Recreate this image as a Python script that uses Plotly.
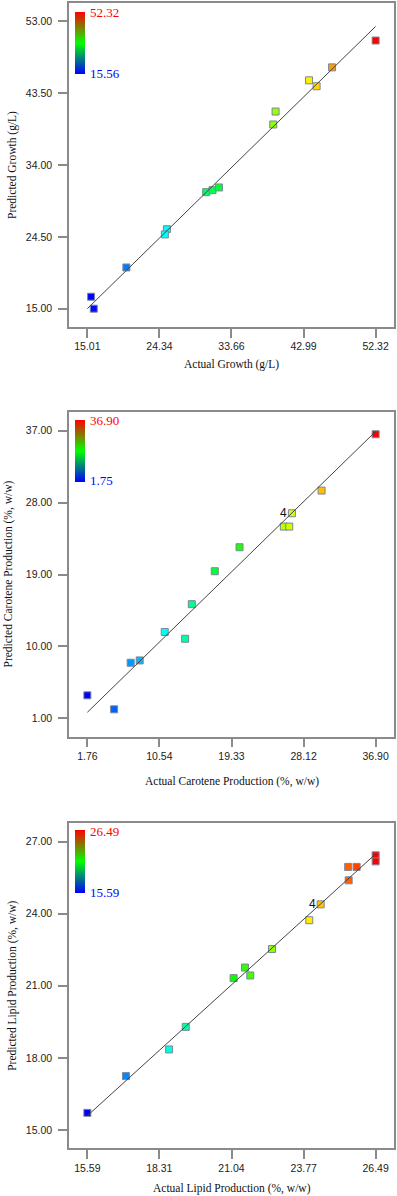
import plotly.graph_objects as go

# ---------------- data ----------------
growth_actual = [52.32, 46.68, 43.70, 44.68, 39.37, 39.07, 30.39, 31.21, 32.04, 25.30, 25.04, 20.06, 15.49, 15.84]
growth_pred   = [50.46, 46.91, 45.20, 44.41, 41.07, 39.36, 30.41, 30.67, 31.03, 25.51, 24.82, 20.45, 16.58, 15.00]
growth_xticks = [15.01, 24.34, 33.66, 42.99, 52.32]
growth_yticks = [15.00, 24.50, 34.00, 43.50, 53.00]
growth_crange = [15.56, 52.32]

carot_actual = [36.90, 30.31, 26.69, 25.71, 26.37, 20.31, 17.29, 14.49, 11.19, 13.68, 7.04, 8.14, 1.76, 5.02]
carot_pred   = [36.55, 29.50, 26.66, 25.00, 25.00, 22.41, 19.41, 15.29, 11.80, 10.96, 7.96, 8.25, 3.88, 2.13]
carot_xticks = [1.76, 10.54, 19.33, 28.12, 36.90]
carot_yticks = [1.00, 10.00, 19.00, 28.00, 37.00]
carot_crange = [1.75, 36.90]
carot_label_idx = 2

lipid_actual = [26.49, 26.49, 25.45, 25.77, 25.47, 24.41, 23.98, 22.57, 21.55, 21.75, 21.12, 19.31, 18.68, 17.05, 15.59]
lipid_pred   = [26.43, 26.18, 25.95, 25.95, 25.39, 24.39, 23.73, 22.53, 21.76, 21.43, 21.32, 19.29, 18.35, 17.24, 15.71]
lipid_xticks = [15.59, 18.31, 21.04, 23.77, 26.49]
lipid_yticks = [15.00, 18.00, 21.00, 24.00, 27.00]
lipid_crange = [15.59, 26.49]
lipid_label_idx = 5

panels = [
    dict(a=growth_actual, p=growth_pred, xt=growth_xticks, yt=growth_yticks, cr=growth_crange,
         xtitle="Actual Growth (g/L)", ytitle="Predicted Growth (g/L)", label=None),
    dict(a=carot_actual, p=carot_pred, xt=carot_xticks, yt=carot_yticks, cr=carot_crange,
         xtitle="Actual Carotene Production (%, w/w)", ytitle="Predicted Carotene Production (%, w/w)",
         label=carot_label_idx),
    dict(a=lipid_actual, p=lipid_pred, xt=lipid_xticks, yt=lipid_yticks, cr=lipid_crange,
         xtitle="Actual Lipid Production (%, w/w)", ytitle="Predicted Lipid Production (%, w/w)",
         label=lipid_label_idx),
]

# ---------------- layout geometry (pixels) ----------------
W, H = 397, 1196
ML, MR = 69, 3
PW = W - ML - MR
panel_px = [(3, 327), (412.3, 736.7), (823.3, 1148.3)]          # top, bottom of plot frames
cbar_px = [(11.7, 74.0), (419.3, 481.7), (830.7, 893.3)]         # colorbar top, bottom
xtitle_y = [364.3, 781.7, 1188.3]
ytitle_x = [13, 8, 13]

point_scale = [[0, 'rgb(0,0,255)'], [0.25, 'rgb(0,255,255)'], [0.5, 'rgb(0,255,0)'],
               [0.75, 'rgb(255,255,0)'], [1, 'rgb(255,0,0)']]
bar_scale = [[0, 'rgb(0,0,255)'], [0.5, 'rgb(0,255,0)'], [1, 'rgb(255,0,0)']]

AXC = '#8a8a8a'
tickfont = dict(family='Liberation Sans, Arial', size=10.5, color='#222')
serif = 'Liberation Serif, Times New Roman'

fig = go.Figure()
annotations = []
layout = {}

def fy(px):
    return 1 - px / H

for i, pn in enumerate(panels):
    n = '' if i == 0 else str(i + 1)
    xa, ya = 'x' + n, 'y' + n
    # markers
    fig.add_trace(go.Scatter(
        x=pn['a'], y=pn['p'], xaxis=xa, yaxis=ya, mode='markers', showlegend=False,
        marker=dict(symbol='square', size=7, color=pn['a'], colorscale=point_scale,
                    cmin=pn['cr'][0], cmax=pn['cr'][1], showscale=False,
                    line=dict(color='rgb(125,135,155)', width=1))))
    # colorbar (legend gradient)
    t, b = cbar_px[i]
    fig.add_trace(go.Scatter(
        x=pn['a'], y=pn['p'], xaxis=xa, yaxis=ya, mode='markers', showlegend=False,
        hoverinfo='skip',
        marker=dict(size=1, opacity=0, color=pn['a'], colorscale=bar_scale,
                    cmin=pn['cr'][0], cmax=pn['cr'][1], showscale=True,
                    colorbar=dict(x=(74.7 - ML) / PW, xanchor='left', xpad=0, ypad=0,
                                  y=fy((t + b) / 2), yanchor='middle',
                                  lenmode='pixels', len=b - t, thickness=10,
                                  outlinewidth=0, showticklabels=False, ticks=''))))
    # y = x line
    fig.add_trace(go.Scatter(
        x=[pn['xt'][0], pn['xt'][-1]], y=[pn['xt'][0], pn['xt'][-1]], xaxis=xa, yaxis=ya,
        mode='lines', showlegend=False, line=dict(color='#444', width=1)))

    xs = pn['xt'][1] - pn['xt'][0]
    ys = pn['yt'][1] - pn['yt'][0]
    pad = 0.255
    top, bot = panel_px[i]
    axis_common = dict(showline=True, mirror=True, linecolor=AXC, linewidth=1.5,
                       ticks='outside', ticklen=9, tickwidth=1.5, tickcolor=AXC,
                       showgrid=False, zeroline=False, tickfont=tickfont, tickmode='array',
                       ticklabeloverflow='allow')
    layout['xaxis' + n] = dict(axis_common, domain=[0, 1], anchor=ya,
                               range=[pn['xt'][0] - pad * xs, pn['xt'][-1] + pad * xs],
                               tickvals=pn['xt'], ticktext=[f"{v:.2f}" for v in pn['xt']])
    layout['yaxis' + n] = dict(axis_common, domain=[fy(bot), fy(top)], anchor=xa,
                               ticklabelstandoff=4,
                               range=[pn['yt'][0] - pad * ys, pn['yt'][-1] + pad * ys],
                               tickvals=pn['yt'], ticktext=[f"{v:.2f}" for v in pn['yt']])

    # colorbar labels
    annotations.append(dict(xref='paper', yref='paper', x=(87.5 - ML) / PW, y=fy(t + 1),
                            xanchor='left', yanchor='middle', showarrow=False,
                            text=f"{pn['cr'][1]:.2f}", font=dict(family=serif, size=13, color='red')))
    annotations.append(dict(xref='paper', yref='paper', x=(87.5 - ML) / PW, y=fy(b - 1),
                            xanchor='left', yanchor='middle', showarrow=False,
                            text=f"{pn['cr'][0]:.2f}", font=dict(family=serif, size=13, color='blue')))
    # axis titles
    annotations.append(dict(xref='paper', yref='paper', x=0.5, y=fy(xtitle_y[i]),
                            xanchor='center', yanchor='middle', showarrow=False,
                            text=pn['xtitle'], font=dict(family=serif, size=11.5, color='#111')))
    annotations.append(dict(xref='paper', yref='paper', x=(ytitle_x[i] - ML) / PW, y=fy((top + bot) / 2),
                            xanchor='center', yanchor='middle', showarrow=False, textangle=-90,
                            text=pn['ytitle'], font=dict(family=serif, size=11.5, color='#111')))
    # replicate label
    if pn['label'] is not None:
        k = pn['label']
        annotations.append(dict(xref=xa, yref=ya, x=pn['a'][k], y=pn['p'][k], xanchor='right',
                                yanchor='middle', xshift=-3, showarrow=False, text='4',
                                font=dict(family='Liberation Sans, Arial', size=12, color='#111')))

fig.update_layout(
    width=W, height=H, margin=dict(l=ML, r=MR, t=0, b=0, autoexpand=False),
    paper_bgcolor='white', plot_bgcolor='white', showlegend=False,
    annotations=annotations, **layout)

fig.write_html("out.html", config={'displayModeBar': False},
               post_script="document.body.style.margin='0px';document.body.style.overflow='hidden';")
